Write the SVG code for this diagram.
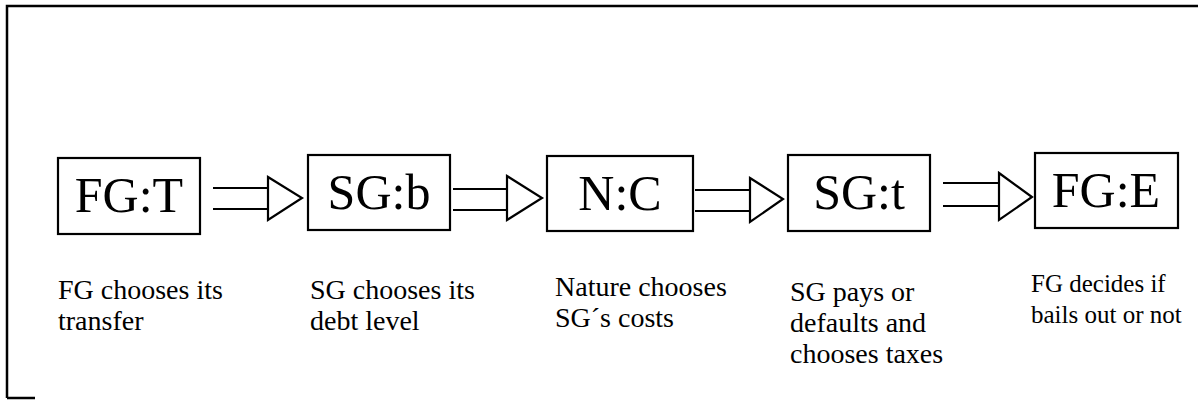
<svg xmlns="http://www.w3.org/2000/svg" width="1198" height="401" viewBox="0 0 1198 401">
<defs>
<style>
.frame{fill:none;stroke:#000;stroke-width:2.5}
.box rect{fill:#fff;stroke:#000;stroke-width:2.2}
.box text{font-family:"Liberation Serif","Times New Roman",serif;font-size:50px;fill:#000;text-anchor:middle}
.lbl{font-family:"Liberation Serif","Times New Roman",serif;font-size:28px;fill:#000}
.lbl.sm{font-size:25px}
.conn line{stroke:#000;stroke-width:2.2}
.conn polygon{fill:#fff;stroke:#000;stroke-width:2.2;stroke-linejoin:miter}
</style>
</defs>
<rect width="1198" height="401" fill="#fff"/>
<path class="frame" d="M7,398 V6 H1198 M7,398 H35"/>

<g id="node-fgt" class="box">
<rect x="58" y="158" width="142" height="76"/>
<text x="129" y="212">FG:T</text>
</g>
<g id="node-sgb" class="box">
<rect x="308" y="155" width="142" height="75"/>
<text x="379" y="209">SG:b</text>
</g>
<g id="node-nc" class="box">
<rect x="547" y="156" width="146" height="75"/>
<text x="620" y="210">N:C</text>
</g>
<g id="node-sgt" class="box">
<rect x="788" y="155" width="142" height="76"/>
<text x="859" y="209">SG:t</text>
</g>
<g id="node-fge" class="box">
<rect x="1035" y="153" width="143" height="75"/>
<text x="1106" y="207">FG:E</text>
</g>

<g id="connectors" class="conn">
<line x1="213" y1="188" x2="268" y2="188"/><line x1="213" y1="209" x2="268" y2="209"/>
<polygon points="268,177 302,198 268,220"/>
<line x1="453" y1="189" x2="507" y2="189"/><line x1="453" y1="210" x2="507" y2="210"/>
<polygon points="507,176 542,198 507,220"/>
<line x1="695" y1="190" x2="750" y2="190"/><line x1="695" y1="211" x2="750" y2="211"/>
<polygon points="750,178 783,199 750,222"/>
<line x1="943" y1="183" x2="999" y2="183"/><line x1="943" y1="206" x2="999" y2="206"/>
<polygon points="999,173 1032,197 999,220"/>
</g>

<g id="labels">
<text class="lbl" x="58" y="299">FG chooses its</text>
<text class="lbl" x="58" y="330">transfer</text>
<text class="lbl" x="310" y="299">SG chooses its</text>
<text class="lbl" x="310" y="330">debt level</text>
<text class="lbl" x="555" y="296">Nature chooses</text>
<text class="lbl" x="555" y="327">SG´s costs</text>
<text class="lbl" x="790" y="301">SG pays or</text>
<text class="lbl" x="790" y="332">defaults and</text>
<text class="lbl" x="790" y="363">chooses taxes</text>
<text class="lbl sm" x="1031" y="292">FG decides if</text>
<text class="lbl sm" x="1031" y="323">bails out or not</text>
</g>
</svg>
